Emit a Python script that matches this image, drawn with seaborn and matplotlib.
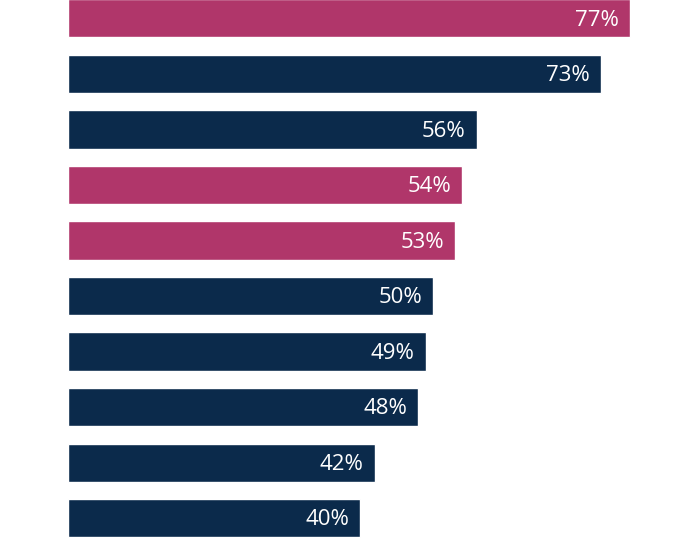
import pandas as pd
import matplotlib.pyplot as plt
import seaborn as sns

# Values (top to bottom)
categories = ["A", "B", "C", "D", "E", "F", "G", "H", "I", "J"]
values = [77, 73, 56, 54, 53, 50, 49, 48, 42, 40]
groups = ["pink", "navy", "navy", "pink", "pink", "navy", "navy", "navy", "navy", "navy"]
labels = ["77%", "73%", "56%", "54%", "53%", "50%", "49%", "48%", "42%", "40%"]

palette = {"pink": "#B0366A", "navy": "#0B2A4B"}

df = pd.DataFrame({"category": categories, "value": values, "group": groups})

sns.set_style("white")
plt.rcParams["font.family"] = ["Open Sans", "DejaVu Sans"]

fig = plt.figure(figsize=(7, 5.4), dpi=100)
ax = fig.add_axes([0, 0, 1, 1])
sns.barplot(
    data=df, x="value", y="category", hue="group",
    palette=palette, dodge=False, width=0.685,
    legend=False, ax=ax, saturation=1,
)

for i, (v, lab) in enumerate(zip(values, labels)):
    ax.text(v - 1.5, i + 0.03, lab, color="white", fontsize=16,
            ha="right", va="center")

ax.set_xlim(-9.32, 86.6)
ax.set_ylim(9.396, -0.333)
ax.axis("off")

fig.savefig("out.png", dpi=100)
